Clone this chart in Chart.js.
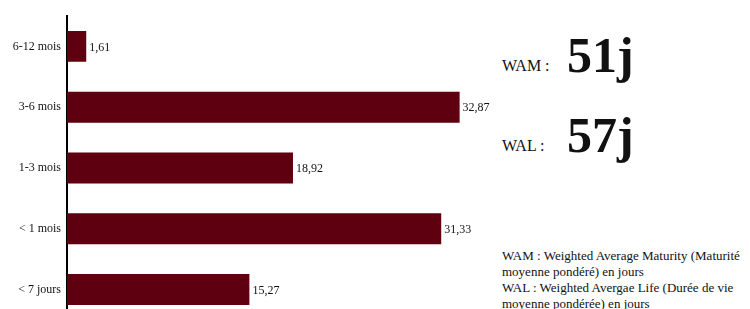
<!DOCTYPE html>
<html>
<head>
<meta charset="utf-8">
<script src="https://cdn.jsdelivr.net/npm/chart.js@4"></script>
<style>
    html, body { margin: 0; padding: 0; overflow: hidden; background: #fff; }
    body { width: 750px; height: 309px; position: relative; font-family: "Liberation Serif", serif; color: #111; }
    #graficoBarras { position: absolute; left: 0; top: 0; }
    .etiq { position: absolute; left: 502px; font-size: 16px; }
    .gros { position: absolute; left: 567px; font-size: 50px; font-weight: bold; line-height: 1; }
    #notes { position: absolute; left: 502px; top: 248px; width: 260px; font-size: 13px; line-height: 16px; white-space: nowrap; }
</style>
</head>
<body>
<canvas id="graficoBarras" width="497" height="333"></canvas>

<div class="etiq" id="wamEtiq" style="top:57px">WAM :</div>
<div class="gros" id="wamVal" style="top:30px"></div>
<div class="etiq" id="walEtiq" style="top:137px">WAL :</div>
<div class="gros" id="walVal" style="top:110px"></div>

<div id="notes">
    WAM : Weighted Average Maturity (Maturité<br>
    moyenne pondéré) en jours<br>
    WAL : Weighted Avergae Life (Durée de vie<br>
    moyenne pondérée) en jours
</div>

<script>
const tranches = ["6-12 mois", "3-6 mois", "1-3 mois", "< 1 mois", "< 7 jours"];
const pourcentages = [1.61, 32.87, 18.92, 31.33, 15.27];
const wam = "51j";
const wal = "57j";

document.getElementById("wamVal").textContent = wam;
document.getElementById("walVal").textContent = wal;

// étiquettes de valeur à droite des barres
const etiquettesValeurs = {
    id: "etiquettesValeurs",
    afterDatasetsDraw(chart) {
        const ctx = chart.ctx;
        const meta = chart.getDatasetMeta(0);
        ctx.save();
        ctx.font = "12px 'Liberation Serif'";
        ctx.fillStyle = "#111";
        ctx.textBaseline = "middle";
        ctx.textAlign = "left";
        meta.data.forEach((barre, i) => {
            const txt = String(pourcentages[i]).replace(".", ",");
            ctx.fillText(txt, barre.x + 3, barre.y + 1);
        });
        ctx.restore();
    },
};

const ctx = document.getElementById("graficoBarras").getContext("2d");
new Chart(ctx, {
    type: "bar",
    data: {
        labels: tranches,
        datasets: [
            {
                data: pourcentages,
                backgroundColor: "#5e0010",
                borderWidth: 0,
                categoryPercentage: 1,
                barPercentage: 0.51,
            },
        ],
    },
    options: {
        responsive: false,
        indexAxis: "y",
        animation: false,
        layout: { padding: { top: 16, right: 0, bottom: 0, left: 0 } },
        plugins: {
            legend: { display: false },
            tooltip: { enabled: false },
        },
        scales: {
            x: {
                display: false,
                min: 0,
                max: 36,
            },
            y: {
                grid: { display: false, drawTicks: false },
                border: { display: true, color: "#000", width: 2 },
                ticks: {
                    color: "#111",
                    padding: 6,
                    font: { family: "Liberation Serif", size: 12 },
                },
                afterFit(scale) {
                    scale.width = 67;
                },
            },
        },
    },
    plugins: [etiquettesValeurs],
});
</script>
</body>
</html>
